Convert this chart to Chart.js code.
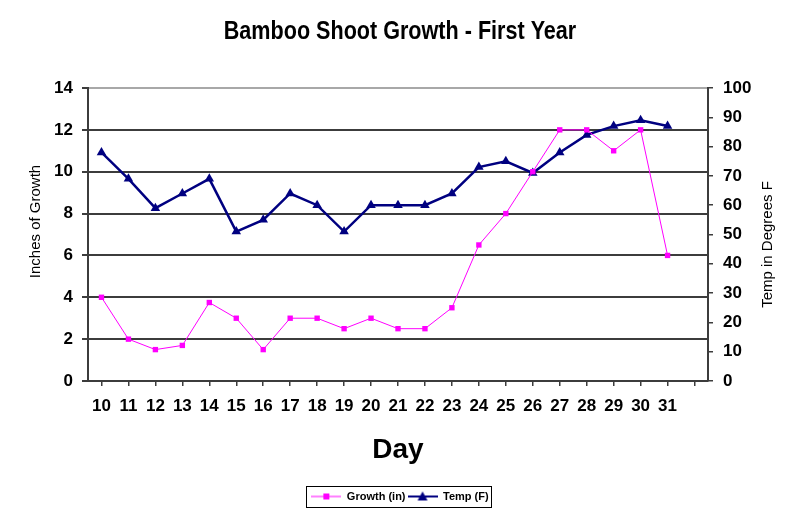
<!DOCTYPE html>
<html>
<head>
<meta charset="utf-8">
<title>Bamboo Shoot Growth - First Year</title>
<script src="https://cdn.jsdelivr.net/npm/chart.js@4.4.1/dist/chart.umd.min.js"></script>
<style>
  html, body { margin: 0; padding: 0; background: #fff; }
  #wrap { width: 800px; height: 532px; }
</style>
</head>
<body>
<div id="wrap"><canvas id="chart" width="800" height="532"></canvas></div>
<script>
// days of the first year that were measured
const days = ['10', '11', '12', '13', '14', '15', '16', '17', '18', '19', '20',
  '21', '22', '23', '24', '25', '26', '27', '28', '29', '30', '31'];
const growthInches = [4, 2, 1.5, 1.7, 3.75, 3, 1.5, 3, 3, 2.5, 3,
  2.5, 2.5, 3.5, 6.5, 8, 10, 12, 12, 11, 12, 6];
const tempF = [78, 69, 59, 64, 69, 51, 55, 64, 60, 51, 60,
  60, 60, 64, 73, 75, 71, 78, 84, 87, 89, 87];
const growthRange = [0, 14, 2];
const tempRange = [0, 100, 10];

const ARIAL = '"Liberation Sans", Arial, sans-serif';
const tickFont = { family: ARIAL, size: 17, weight: 'bold' };
const GRID = '#3c3c3c';

// small line + marker sample used as the legend symbol
function legendMark(color, width, shape) {
  const c = document.createElement('canvas');
  c.width = 30;
  c.height = 12;
  const g = c.getContext('2d');
  g.strokeStyle = color;
  g.fillStyle = color;
  g.lineWidth = width;
  g.beginPath();
  g.moveTo(0, 6);
  g.lineTo(30, 6);
  g.stroke();
  if (shape === 'rect') {
    g.fillRect(12, 3, 6, 6);
  } else {
    g.beginPath();
    g.moveTo(15, 1);
    g.lineTo(20, 10);
    g.lineTo(10, 10);
    g.closePath();
    g.fill();
  }
  return c;
}
const marks = [legendMark('#ff00ff', 1, 'rect'), legendMark('#000080', 2, 'triangle')];

const extras = {
  id: 'extras',
  beforeDraw(chart) {
    const { ctx } = chart;
    ctx.save();
    ctx.fillStyle = '#fff';
    ctx.fillRect(0, 0, chart.width, chart.height);
    ctx.restore();
  },
  afterDraw(chart) {
    const { ctx, chartArea, scales, legend } = chart;
    const midY = (chartArea.top + chartArea.bottom) / 2;
    ctx.save();
    ctx.fillStyle = '#000';
    ctx.textAlign = 'center';
    ctx.textBaseline = 'middle';

    // condensed bold title (no narrow font installed, so squeeze it)
    ctx.save();
    ctx.font = 'bold 26px ' + ARIAL;
    ctx.translate(chart.width / 2, 32);
    ctx.scale(0.83, 1);
    ctx.fillText('Bamboo Shoot Growth - First Year', 0, 0);
    ctx.restore();

    ctx.font = '15px ' + ARIAL;
    ctx.save();
    ctx.translate(scales.y.left + 36, midY - 13);
    ctx.rotate(-Math.PI / 2);
    ctx.fillText('Inches of Growth', 0, 0);
    ctx.restore();

    ctx.save();
    ctx.translate(scales.y1.left + 60, midY + 10);
    ctx.rotate(-Math.PI / 2);
    ctx.fillText('Temp in Degrees F', 0, 0);
    ctx.restore();

    // legend frame
    const hb = legend.legendHitBoxes;
    if (hb && hb.length) {
      const last = hb[hb.length - 1];
      const x0 = Math.round(hb[0].left - 5) + 0.5;
      const x1 = Math.round(last.left + last.width + 2) + 0.5;
      const y0 = Math.round(hb[0].top - 5) + 0.5;
      const y1 = Math.round(hb[0].top + hb[0].height + 5) + 0.5;
      ctx.strokeStyle = '#000';
      ctx.lineWidth = 1;
      ctx.strokeRect(x0, y0, x1 - x0, y1 - y0);
    }
    ctx.restore();
  },
};

new Chart(document.getElementById('chart').getContext('2d'), {
  type: 'line',
  data: {
    labels: [...days, ''],
    datasets: [
      {
        label: 'Growth (in)',
        data: growthInches,
        yAxisID: 'y',
        borderColor: '#ff00ff',
        backgroundColor: '#ff00ff',
        borderWidth: 1,
        pointStyle: 'rect',
        pointRadius: 3.8,
        pointBorderWidth: 0,
        tension: 0,
      },
      {
        label: 'Temp (F)',
        data: tempF,
        yAxisID: 'y1',
        borderColor: '#000080',
        backgroundColor: '#000080',
        borderWidth: 2.5,
        pointStyle: 'triangle',
        pointRadius: 5.5,
        pointBorderWidth: 0,
        tension: 0,
      },
    ],
  },
  options: {
    responsive: false,
    animation: false,
    layout: { padding: { left: 0, right: 0, top: 88, bottom: 20 } },
    plugins: {
      tooltip: { enabled: false },
      title: { display: false },
      legend: {
        position: 'bottom',
        labels: {
          usePointStyle: true,
          pointStyleWidth: 30,
          padding: 2,
          color: '#000',
          font: { family: ARIAL, size: 11, weight: 'bold' },
          generateLabels: (chart) => chart.data.datasets.map((ds, i) => ({
            text: ds.label,
            pointStyle: marks[i],
            fillStyle: ds.borderColor,
            strokeStyle: ds.borderColor,
            lineWidth: 0,
            fontColor: '#000',
            hidden: false,
            datasetIndex: i,
          })),
        },
      },
    },
    scales: {
      x: {
        type: 'category',
        offset: true,
        grid: { drawOnChartArea: false, tickLength: 5, color: GRID, lineWidth: 1.5 },
        border: { color: GRID, width: 2 },
        ticks: { color: '#000', font: tickFont, padding: 10, maxRotation: 0, autoSkip: false },
        title: {
          display: true,
          text: 'Day',
          color: '#000',
          font: { family: ARIAL, size: 28, weight: 'bold' },
          padding: { top: 7, bottom: 22 },
        },
      },
      y: {
        position: 'left',
        min: growthRange[0],
        max: growthRange[1],
        ticks: { stepSize: growthRange[2], color: '#000', font: tickFont, padding: 9 },
        grid: {
          color: (c) => (c.tick && c.tick.value === growthRange[1] ? '#a8a8a8' : GRID),
          tickColor: GRID,
          lineWidth: 2,
          tickLength: 6,
        },
        border: { color: GRID, width: 2 },
        afterFit: (s) => { s.width = 88; },
      },
      y1: {
        position: 'right',
        min: tempRange[0],
        max: tempRange[1],
        ticks: { stepSize: tempRange[2], color: '#000', font: tickFont, padding: 10 },
        grid: { drawOnChartArea: false, tickLength: 5, color: GRID, lineWidth: 1.5 },
        border: { color: GRID, width: 2 },
        afterFit: (s) => { s.width = 92; },
      },
    },
  },
  plugins: [extras],
});
</script>
</body>
</html>
